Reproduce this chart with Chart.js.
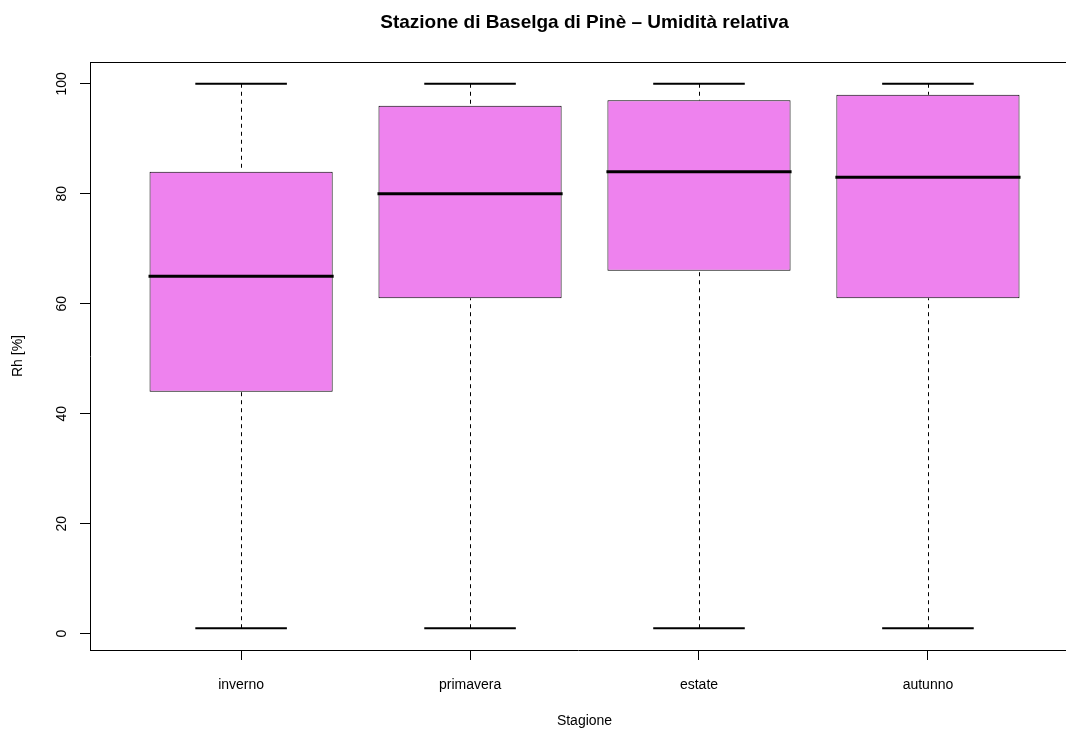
<!DOCTYPE html>
<html>
<head>
<meta charset="utf-8">
<script src="https://cdn.jsdelivr.net/npm/chart.js@4/dist/chart.umd.min.js"></script>
<style>
  html, body { margin: 0; padding: 0; background: #fff; overflow: hidden; }
  canvas { display: block; }
</style>
</head>
<body>
<canvas id="mycanvas" width="1066" height="731"></canvas>
<script>
// seasons and box statistics (Rh %)
var seasons = ["inverno", "primavera", "estate", "autunno"];
var whiskerLow = [1, 1, 1, 1];
var q1 = [44, 61, 66, 61];
var median = [65, 80, 84, 83];
var q3 = [84, 96, 97, 98];
var whiskerHigh = [100, 100, 100, 100];
var yTicks = [0, 20, 40, 60, 80, 100];

var titleText = "Stazione di Baselga di Pinè – Umidità relativa";
var xTitle = "Stagione";
var yTitle = "Rh [%]";
var fontFam = "'Liberation Sans', Arial, Helvetica, sans-serif";

var boxes = [];
for (var i in seasons) {
  boxes.push({ x: Number(i) + 1, y: [q1[i], q3[i]] });
}

var boxPlugin = {
  id: 'boxExtras',
  afterDatasetsDraw: function(chart) {
    var ctx = chart.ctx;
    var xs = chart.scales.x, ys = chart.scales.y;
    var a = chart.chartArea;
    ctx.save();
    for (var i = 0; i < seasons.length; i++) {
      var cx = xs.getPixelForValue(i + 1);
      var capL = xs.getPixelForValue(i + 1 - 0.2);
      var capR = xs.getPixelForValue(i + 1 + 0.2);
      var boxL = xs.getPixelForValue(i + 1 - 0.4);
      var boxR = xs.getPixelForValue(i + 1 + 0.4);
      // whiskers
      ctx.strokeStyle = '#000';
      ctx.lineWidth = 1;
      ctx.setLineDash([4, 4]);
      ctx.beginPath();
      ctx.moveTo(Math.round(cx) + 0.5, ys.getPixelForValue(whiskerLow[i]));
      ctx.lineTo(Math.round(cx) + 0.5, ys.getPixelForValue(q1[i]));
      ctx.moveTo(Math.round(cx) + 0.5, ys.getPixelForValue(whiskerHigh[i]));
      ctx.lineTo(Math.round(cx) + 0.5, ys.getPixelForValue(q3[i]));
      ctx.stroke();
      ctx.setLineDash([]);
      // caps
      ctx.lineWidth = 2;
      ctx.beginPath();
      ctx.moveTo(capL, ys.getPixelForValue(whiskerLow[i]));
      ctx.lineTo(capR, ys.getPixelForValue(whiskerLow[i]));
      ctx.moveTo(capL, ys.getPixelForValue(whiskerHigh[i]));
      ctx.lineTo(capR, ys.getPixelForValue(whiskerHigh[i]));
      ctx.stroke();
      // median
      ctx.lineWidth = 3;
      ctx.beginPath();
      ctx.moveTo(boxL - 1, ys.getPixelForValue(median[i]));
      ctx.lineTo(boxR + 1, ys.getPixelForValue(median[i]));
      ctx.stroke();
    }
    // frame top line (right side is cut by the canvas)
    ctx.lineWidth = 1;
    ctx.strokeStyle = '#000';
    ctx.beginPath();
    ctx.moveTo(a.left, Math.round(a.top) + 0.5);
    ctx.lineTo(a.right, Math.round(a.top) + 0.5);
    ctx.stroke();

    // rotated y tick labels
    ctx.fillStyle = '#000';
    ctx.font = '14px ' + fontFam;
    ctx.textAlign = 'center';
    ctx.textBaseline = 'middle';
    for (var t = 0; t < yTicks.length; t++) {
      ctx.save();
      ctx.translate(62, ys.getPixelForValue(yTicks[t]));
      ctx.rotate(-Math.PI / 2);
      ctx.fillText(String(yTicks[t]), 0, 0);
      ctx.restore();
    }
    // y title
    ctx.save();
    ctx.translate(18, (a.top + a.bottom) / 2);
    ctx.rotate(-Math.PI / 2);
    ctx.fillText(yTitle, 0, 0);
    ctx.restore();
    // x title and main title centred over the full plot region
    var mid = xs.getPixelForValue(2.5);
    ctx.fillText(xTitle, mid, 721);
    ctx.font = 'bold 19px ' + fontFam;
    ctx.fillText(titleText, mid, 23);
    ctx.restore();
  }
};

var ctx = document.getElementById('mycanvas');

var boxChart = new Chart(ctx, {
  type: 'bar',
  data: {
    datasets: [{
      data: boxes,
      backgroundColor: '#EE82EE',
      borderColor: '#000',
      borderWidth: 1,
      borderSkipped: false,
      barPercentage: 0.8,
      categoryPercentage: 1.0
    }]
  },
  options: {
    responsive: false,
    animation: false,
    layout: { padding: { top: 62, left: 0, right: 0, bottom: 0 } },
    plugins: {
      legend: { display: false },
      title: { display: false },
      tooltip: { enabled: false }
    },
    scales: {
      x: {
        type: 'linear',
        offset: false,
        min: 0.34,
        max: 4.603,
        afterBuildTicks: function(scale) {
          scale.ticks = seasons.map(function(s, i) { return { value: i + 1 }; });
        },
        afterFit: function(scale) { scale.height = 81; },
        ticks: {
          color: '#000',
          font: { family: fontFam, size: 14 },
          padding: 17,
          maxRotation: 0,
          autoSkip: false,
          callback: function(v) { return seasons[v - 1]; }
        },
        grid: {
          offset: false,
          drawOnChartArea: false,
          drawTicks: true,
          tickLength: 10,
          color: '#000'
        },
        border: { display: true, color: '#000', width: 1 }
      },
      y: {
        min: -2.96,
        max: 103.96,
        afterBuildTicks: function(scale) {
          scale.ticks = yTicks.map(function(v) { return { value: v }; });
        },
        afterFit: function(scale) { scale.width = 90; },
        ticks: { display: false },
        grid: {
          drawOnChartArea: false,
          drawTicks: true,
          tickLength: 10,
          color: '#000'
        },
        border: { display: true, color: '#000', width: 1 }
      }
    }
  },
  plugins: [boxPlugin]
});
</script>
</body>
</html>
